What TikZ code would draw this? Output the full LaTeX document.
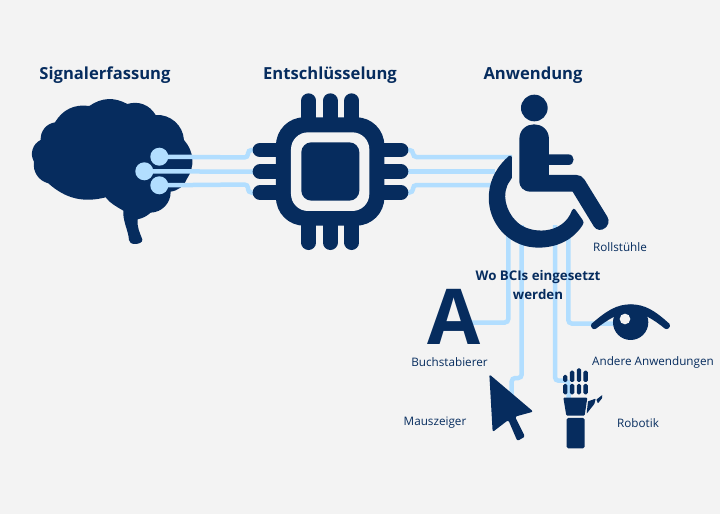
\documentclass[tikz,border=0pt]{standalone}
\usepackage{fontspec}
\setmainfont{Open Sans}
\definecolor{navy}{HTML}{062C5E}
\definecolor{bgc}{HTML}{F3F3F3}
\definecolor{wirec}{HTML}{B2DEFF}
\tikzset{
  zoomat/.style 2 args={shift={(#1,#2)},x=0.3333pt,y=-0.3333pt},
  wire/.style={draw=wirec,line width=4.5pt,rounded corners=3.5pt},
  icon/.style={fill=navy,draw=none},
  head/.style={text=navy,font=\fontsize{16.6}{18}\selectfont\bfseries,inner sep=0pt},
  lab/.style={text=navy,font=\fontsize{11.7}{14}\selectfont,inner sep=0pt},
  contact/.style={circle,fill=wirec,minimum size=18pt,inner sep=0pt}
}
\begin{document}
\begin{tikzpicture}[x=1pt,y=-1pt]
\fill[bgc] (0,0) rectangle (720,514);
\useasboundingbox (0,0) rectangle (720,514);
% end points
\coordinate (pl1) at (256,150);\coordinate (pl2) at (256,171.7);\coordinate (pl3) at (256,192.5);
\coordinate (pr1) at (404,150);\coordinate (pr2) at (404,171.7);\coordinate (pr3) at (404,192.5);
\coordinate (w1) at (512,157);\coordinate (w2) at (495,171.7);\coordinate (w3) at (492,185);
\coordinate (wa) at (508.3,225);\coordinate (wb) at (521.7,225);\coordinate (wc) at (555,225);\coordinate (wd) at (568.3,225);
\coordinate (ta) at (470,322.5);\coordinate (tb) at (511.7,395);\coordinate (tc) at (568.5,398);\coordinate (td) at (616,323.5);
% lower wires
\draw[wire] (wa) -- (508.3,322.5) -- (ta);
\draw[wire] (wb) -- (521.7,378) -- (511.7,378) -- (tb);
\draw[wire] (wc) -- (555,380.7) -- (568.5,380.7) -- (tc);
\draw[wire] (wd) -- (568.3,323.5) -- (td);
% brain
\begin{scope}[zoomat={20}{90}]
\fill[icon] (62,150) to[bend left=42] (105,97) to[bend left=34] (208,48)
 to[bend left=32] (322,42) to[bend left=38] (407,75)
 to[bend left=45] (492,150) to[bend left=38] (500,268) to[bend left=28] (452,305)
 to[bend left=45] (392,368) to[bend left=14] (353,388)
 .. controls (350,410) and (360,430) .. (367,448)
 .. controls (369,458) and (355,462) .. (345,462)
 .. controls (335,462) and (327,458) .. (327,450)
 .. controls (325,420) and (308,395) .. (310,362)
 .. controls (290,350) and (270,340) .. (257,322)
 to[bend left=28] (85,280) to[bend left=42] (42,215) to[bend left=48] (62,150) -- cycle;
\end{scope}
% brain wires
\node[contact] (b1) at (159.3,156.7) {};
\node[contact] (b2) at (144.3,171.3) {};
\node[contact] (b3) at (159.3,185.3) {};
\draw[wire] (b1.center) -- (248,157.5) -- (248,150) -- (pl1);
\draw[wire] (b2.center) -- (pl2);
\draw[wire] (b3.center) -- (248,184.5) -- (248,192.5) -- (pl3);
% right wires of the chip
\draw[wire] (pr1) -- (413,150) -- (413,157) -- (w1);
\draw[wire] (pr2) -- (w2);
\draw[wire] (pr3) -- (413,192.5) -- (413,185) -- (w3);
% chip
\begin{scope}[zoomat={230}{85}]
\foreach \a in {236,300.5,365} \draw[navy,line width=14.7pt,line cap=round] (\a,47) -- (\a,473);
\foreach \a in {195,260,323} \draw[navy,line width=14.7pt,line cap=round] (90,\a) -- (513,\a);
\foreach \a in {227.5,292.5} {\fill[bgc] (100,\a-5) rectangle (138,\a+5);\fill[bgc] (463,\a-5) rectangle (500,\a+5);}
\fill[icon,rounded corners=28pt] (138,97) rectangle (463,422);
\fill[bgc,rounded corners=17pt] (183,142) rectangle (418,378);
\fill[icon,rounded corners=10pt] (214,172) rectangle (388,347);
\end{scope}
% wheelchair
\begin{scope}[zoomat={400}{85}]
\fill[icon] (403,69) circle[radius=40];
\fill[icon] (358,163) .. controls (358,103) and (447,103) .. (447,163) -- (447,208) -- (505,208)
 .. controls (526,208) and (526,240) .. (505,240) -- (447,240) -- (447,270) -- (530,270)
 .. controls (540,270) and (548,275) .. (553,283) -- (622,395)
 .. controls (638,422) and (600,450) .. (582,425) -- (518,320) -- (392,320)
 .. controls (370,320) and (358,305) .. (358,290) -- cycle;
\fill[icon] (327,213) .. controls (332,210) and (336,212) .. (336,218) -- (336,278)
 .. controls (336,283) and (332,285) .. (330,288)
 .. controls (302,325) and (318,380) .. (350,410)
 .. controls (390,450) and (490,450) .. (516,376)
 .. controls (518,370) and (523,370) .. (526,374) -- (548,405)
 .. controls (552,410) and (551,415) .. (548,420)
 .. controls (510,480) and (440,495) .. (385,485)
 .. controls (310,470) and (260,400) .. (267,325)
 .. controls (270,280) and (295,240) .. (327,213) -- cycle;
\end{scope}
% lower icons
\begin{scope}[zoomat={400}{240}]
% eye
\fill[icon] (574,252) .. controls (620,212) and (650,193) .. (692,193)
 .. controls (735,193) and (765,212) .. (809,252)
 .. controls (813,262) and (803,271) .. (795,266)
 .. controls (760,238) and (730,218) .. (692,218)
 .. controls (655,218) and (625,238) .. (588,266)
 .. controls (580,271) and (570,262) .. (574,252) -- cycle;
\fill[icon] (692,247) circle[radius=53];
\fill[bgc] (675,237) circle[radius=16];
% cursor
\fill[icon,rounded corners=2pt] (268,403) -- (400,515) -- (345,530) -- (375,590) -- (352,603) -- (325,540) -- (278,576) -- cycle;
% hand
\foreach \a/\t in {496/405,516.5/392,537/385,557/392} {
 \fill[icon,rounded corners=1.5pt] (\a-6.5,\t) rectangle (\a+6.5,426);
 \fill[icon,rounded corners=1.5pt] (\a-6.5,432) rectangle (\a+6.5,463);}
\fill[icon,rounded corners=1pt] (490,473) -- (562,473) -- (554,527) -- (499,527) -- cycle;
\fill[icon,rounded corners=1.5pt] (500,534) rectangle (554,625);
\fill[icon,rounded corners=0.5pt] (564,484) -- (587,476) -- (583,492) -- (560,521) -- cycle;
\fill[icon,rounded corners=0.5pt] (589,479) -- (607,465) -- (606,475) -- (594,490) -- cycle;
\end{scope}
\node[text=navy,font=\fontsize{77}{77}\selectfont\bfseries,inner sep=0pt,anchor=base] (lettera) at (454.5,344.5) {A};
% texts
\node[head] (t1) at (105,75) {Signalerfassung};
\node[head] (t2) at (330,75) {Entschlüsselung};
\node[head] (t3) at (533,75) {Anwendung};
\node[lab] (l1) at (620,247) {Rollstühle};
\node[lab,font=\fontsize{13.3}{19}\selectfont\bfseries,align=center] (l2) at (538,285) {Wo BCIs eingesetzt\\werden};
\node[lab] (l3) at (449.5,362.5) {Buchstabierer};
\node[lab] (l4) at (653,362.5) {Andere Anwendungen};
\node[lab] (l5) at (435,423) {Mauszeiger};
\node[lab] (l6) at (638,423) {Robotik};
\end{tikzpicture}
\end{document}
